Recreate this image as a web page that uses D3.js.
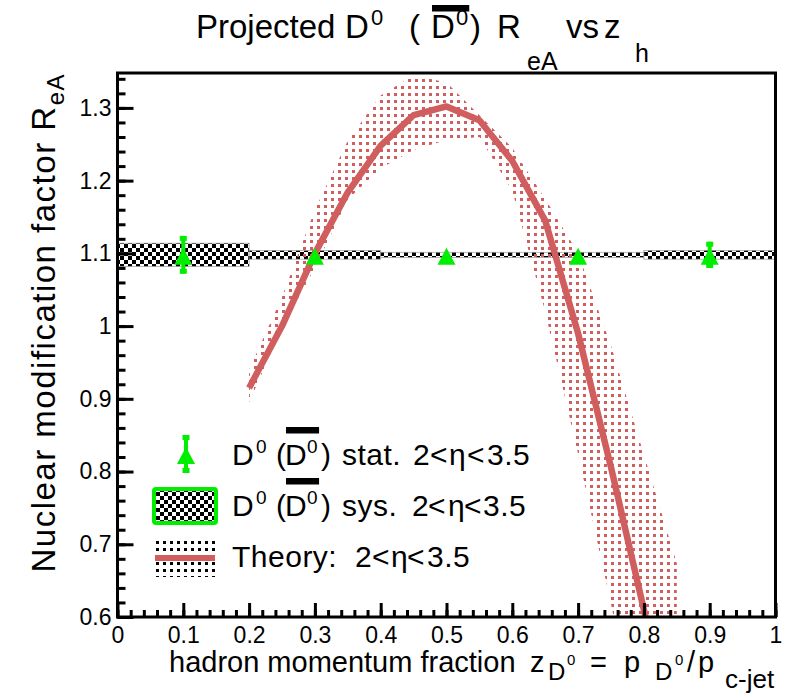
<!DOCTYPE html>
<html>
<head>
<meta charset="utf-8">
<script src="https://cdn.jsdelivr.net/npm/d3@7"></script>
<style>
body { margin: 0; background: #fff; }
text { font-family: "Liberation Sans", Arial, Helvetica, sans-serif; fill: #000; }
</style>
</head>
<body>
<div id="chart"></div>
<script>
// values
var statZ = [0.1, 0.3, 0.5, 0.7, 0.9];
var statR = [1.098, 1.098, 1.098, 1.098, 1.098];
var statErr = [0.026, 0.005, 0.004, 0.005, 0.018];

var sysLow = [0.0, 0.2, 0.4, 0.6, 0.8];
var sysHigh = [0.2, 0.4, 0.6, 0.8, 1.0];
var sysErr = [0.016, 0.006, 0.0035, 0.0035, 0.006];

var theoryZ = [0.2, 0.25, 0.3, 0.35, 0.4, 0.45, 0.5, 0.55, 0.6, 0.65, 0.7, 0.75, 0.8, 0.85];
var theoryR = [0.915, 1.0, 1.10, 1.184, 1.248, 1.29, 1.302, 1.283, 1.227, 1.145, 0.99, 0.806, 0.61, 0.42];
var theoryUp = [0.94, 1.04, 1.16, 1.255, 1.317, 1.345, 1.335, 1.29, 1.245, 1.175, 1.10, 0.973, 0.823, 0.674];
var theoryLow = [0.895, 0.998, 1.08, 1.174, 1.217, 1.242, 1.256, 1.26, 1.186, 1.02, 0.824, 0.618, 0.40, 0.2];

var xTicks = [0, 0.1, 0.2, 0.3, 0.4, 0.5, 0.6, 0.7, 0.8, 0.9, 1];
var yTicks = [0.6, 0.7, 0.8, 0.9, 1.0, 1.1, 1.2, 1.3];

var legendLabels = ["stat.", "sys.", "Theory:"];

var green = "#00ee00";
var red = "#d05e5e";

var svg = d3.select("#chart")
    .append("svg")
    .attr("width", 791)
    .attr("height", 695);

svg.append("rect").attr("width", 791).attr("height", 695).attr("fill", "#fff");

var x = d3.scaleLinear().domain([0, 1]).range([117.5, 775.5]);
var y = d3.scaleLinear().domain([0.6, 1.348]).range([617, 73]);

var defs = svg.append("defs");

var checker = defs.append("pattern")
    .attr("id", "checker")
    .attr("patternUnits", "userSpaceOnUse")
    .attr("width", 8).attr("height", 8);
checker.append("rect").attr("width", 8).attr("height", 8).attr("fill", "#fff");
checker.append("rect").attr("width", 4).attr("height", 4).attr("fill", "#000");
checker.append("rect").attr("x", 4).attr("y", 4).attr("width", 4).attr("height", 4).attr("fill", "#000");

var dots = defs.append("pattern")
    .attr("id", "reddots")
    .attr("patternUnits", "userSpaceOnUse")
    .attr("width", 7).attr("height", 7);
dots.append("rect").attr("x", 2).attr("y", 2).attr("width", 3).attr("height", 3).attr("fill", red);

var bdots = defs.append("pattern")
    .attr("id", "blackdots")
    .attr("patternUnits", "userSpaceOnUse")
    .attr("width", 7).attr("height", 7);
bdots.append("rect").attr("width", 7).attr("height", 7).attr("fill", "#fff");
bdots.append("rect").attr("x", 2).attr("y", 2).attr("width", 3).attr("height", 3).attr("fill", "#000");

defs.append("clipPath").attr("id", "plotclip")
    .append("rect")
    .attr("x", x(0)).attr("y", y(1.348))
    .attr("width", x(1) - x(0)).attr("height", y(0.6) - y(1.348));

var plot = svg.append("g").attr("clip-path", "url(#plotclip)");

// systematic boxes
plot.selectAll(".sys")
    .data(sysLow)
    .enter()
    .append("rect")
    .attr("class", "sys")
    .attr("x", function (d) { return x(d); })
    .attr("width", function (d, i) { return x(sysHigh[i]) - x(d); })
    .attr("y", function (d, i) { return y(statR[i] + sysErr[i]); })
    .attr("height", function (d, i) { return y(statR[i] - sysErr[i]) - y(statR[i] + sysErr[i]); })
    .attr("fill", "url(#checker)")
    .attr("stroke", "#999")
    .attr("stroke-width", 0.7);

// theory band + line
var theory = theoryZ.map(function (z, i) {
    return {z: z, r: theoryR[i], up: theoryUp[i], lo: theoryLow[i]};
});

plot.append("path")
    .datum(theory)
    .attr("fill", "url(#reddots)")
    .attr("d", d3.area()
        .x(function (d) { return x(d.z); })
        .y0(function (d) { return y(d.lo); })
        .y1(function (d) { return y(d.up); }));

plot.append("path")
    .datum(theory)
    .attr("fill", "none")
    .attr("stroke", red)
    .attr("stroke-width", 6.5)
    .attr("stroke-linejoin", "round")
    .attr("d", d3.line()
        .x(function (d) { return x(d.z); })
        .y(function (d) { return y(d.r); }));

// stat points
var triangle = "M0,-7L9,10L-9,10Z";

function errorBar(g, cx, top, bottom) {
    g.append("line")
        .attr("x1", cx).attr("x2", cx)
        .attr("y1", top).attr("y2", bottom)
        .attr("stroke", green).attr("stroke-width", 4);
    g.append("rect").attr("x", cx - 3.5).attr("y", top).attr("width", 7).attr("height", 5).attr("fill", green);
    g.append("rect").attr("x", cx - 3.5).attr("y", bottom - 5).attr("width", 7).attr("height", 5).attr("fill", green);
}

var stat = svg.append("g");
statZ.forEach(function (z, i) {
    var top = y(statR[i] + statErr[i]), bottom = y(statR[i] - statErr[i]);
    if (bottom - top > 12) errorBar(stat, x(z), top, bottom);
    stat.append("path")
        .attr("d", triangle)
        .attr("transform", "translate(" + x(z) + "," + y(statR[i]) + ")")
        .attr("fill", green);
});

// axes
function fmt(d) { return String(+d.toFixed(1)); }

function styleAxis(g) {
    g.select(".domain").remove();
    g.selectAll(".tick line").attr("stroke", "#000").attr("stroke-width", 3);
    g.selectAll("text").attr("font-size", 23).attr("fill", "#000")
        .style("font-family", "'Liberation Sans', Arial, sans-serif");
}

svg.append("g")
    .attr("transform", "translate(" + x(0) + ",0)")
    .call(d3.axisLeft(y).tickValues(d3.range(30, 68).map(function (v) { return v / 50; }))
        .tickSize(-8).tickFormat(""))
    .call(styleAxis);

svg.append("g")
    .attr("transform", "translate(" + x(0) + ",0)")
    .call(d3.axisLeft(y).tickValues(yTicks).tickSize(-16).tickPadding(6).tickFormat(fmt))
    .call(styleAxis);

svg.append("g")
    .attr("transform", "translate(0," + y(0.6) + ")")
    .call(d3.axisBottom(x).tickValues(d3.range(0, 51).map(function (v) { return v / 50; }))
        .tickSize(-7).tickFormat(""))
    .call(styleAxis);

svg.append("g")
    .attr("transform", "translate(0," + y(0.6) + ")")
    .call(d3.axisBottom(x).tickValues(xTicks).tickSize(-14).tickPadding(10).tickFormat(fmt))
    .call(styleAxis);

// frame
svg.append("rect")
    .attr("x", x(0)).attr("y", y(1.348))
    .attr("width", x(1) - x(0)).attr("height", y(0.6) - y(1.348))
    .attr("fill", "none").attr("stroke", "#000").attr("stroke-width", 3);

// text built from pieces (ROOT-like latex); "at" pins a piece, bar marks an overline
function rich(g, base, segs, size, barOffset, spacing) {
    var cx = 0, parts = [];
    segs.forEach(function (s) {
        if (s.at !== undefined) cx = s.at;
        var t = g.append("text")
            .attr("x", cx)
            .attr("y", base + (s.dy || 0))
            .attr("font-size", s.size || size)
            .attr("letter-spacing", spacing || 0)
            .style("white-space", "pre")
            .text(s.t);
        var w = t.node().getComputedTextLength();
        parts.push({x0: cx, x1: cx + w, bar: s.bar});
        cx += w;
    });
    var barred = parts.filter(function (p) { return p.bar; });
    if (barred.length) {
        g.append("rect")
            .attr("x", barred[0].x0 + 1)
            .attr("y", base - barOffset)
            .attr("width", barred[barred.length - 1].x1 - barred[0].x0)
            .attr("height", 6.5)
            .attr("fill", "#000");
    }
}

// title
rich(svg.append("g"), 38, [
    {t: "Projected", at: 196},
    {t: "D", at: 345},
    {t: "0", size: 22, dy: -13, at: 371},
    {t: "(", at: 409},
    {t: "D", bar: true, at: 431},
    {t: "0", size: 22, dy: -13, bar: true, at: 456},
    {t: ")", at: 470},
    {t: "R", at: 497},
    {t: "eA", size: 25, dy: 32, at: 527},
    {t: "vs", at: 566},
    {t: "z", at: 604},
    {t: "h", size: 25, dy: 24, at: 635}
], 33, 33);

// y title
var yt = svg.append("text")
    .attr("transform", "translate(55,73) rotate(-90)")
    .attr("text-anchor", "end")
    .attr("letter-spacing", 1.5)
    .attr("font-size", 33);
yt.append("tspan").text("Nuclear modification factor R");
yt.append("tspan").attr("font-size", 24).attr("dy", 9).text("eA");

// x title
rich(svg.append("g"), 672, [
    {t: "hadron momentum fraction", at: 169},
    {t: "z", at: 530},
    {t: "D", size: 24, dy: 8, at: 548},
    {t: "0", size: 15, dy: -7, at: 567},
    {t: "=", at: 590},
    {t: "p", at: 624},
    {t: "D", size: 24, dy: 8, at: 655},
    {t: "0", size: 15, dy: -7, at: 675},
    {t: "/", at: 687},
    {t: "p", at: 698},
    {t: "c-jet", size: 26, dy: 16, at: 725}
], 29, 0);

// legend
var leg = svg.append("g");
var legBase = [465, 516, 567];
var etaAt = [
    [413, 430, 449, 467, 487],
    [412, 428, 448, 464, 483],
    [355, 372, 391, 407, 427]
];
var labelAt = [342, 342, 232];

errorBar(leg, 186, 435, 473);
leg.append("path").attr("d", triangle).attr("transform", "translate(186,454)").attr("fill", green);

leg.append("rect")
    .attr("x", 154).attr("y", 489).attr("width", 62).attr("height", 34)
    .attr("rx", 2)
    .attr("fill", "url(#checker)")
    .attr("stroke", green).attr("stroke-width", 4);

leg.append("rect")
    .attr("x", 155).attr("y", 540).attr("width", 60).attr("height", 37)
    .attr("fill", "url(#blackdots)");
leg.append("line")
    .attr("x1", 155).attr("x2", 215).attr("y1", 558).attr("y2", 558)
    .attr("stroke", red).attr("stroke-width", 6);

legendLabels.forEach(function (label, i) {
    var segs = [];
    if (i < 2) {
        segs = [
            {t: "D", at: 232},
            {t: "0", size: 19, dy: -12, at: 256},
            {t: "(", at: 276},
            {t: "D", bar: true, at: 285},
            {t: "0", size: 19, dy: -12, bar: true, at: 307},
            {t: ")", at: 321}
        ];
    }
    segs.push({t: label, at: labelAt[i]});
    ["2", "<", "\u03b7", "<", "3.5"].forEach(function (t, k) {
        segs.push({t: t, at: etaAt[i][k]});
    });
    rich(leg.append("g"), legBase[i], segs, 30, 38, 0.5);
});
</script>
</body>
</html>
